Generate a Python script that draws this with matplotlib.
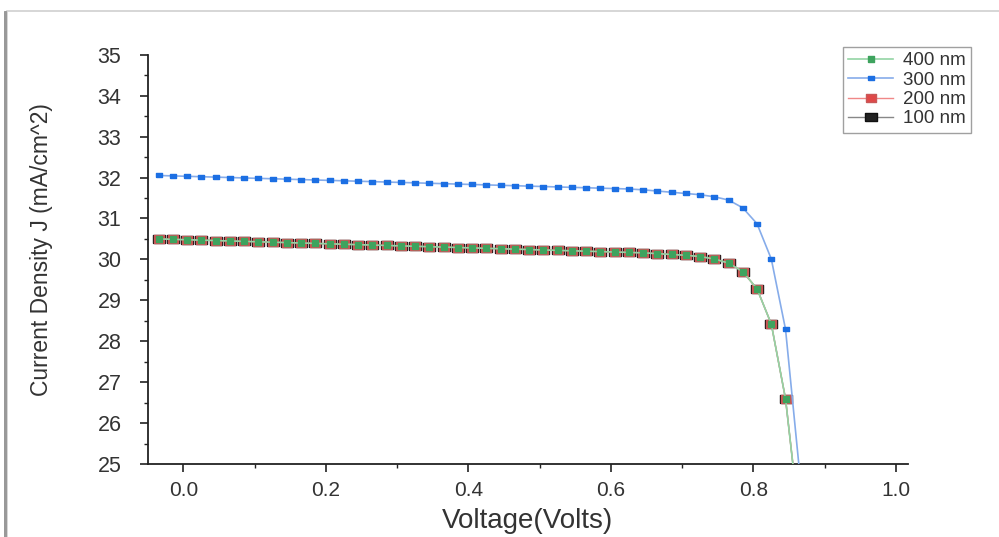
import matplotlib
matplotlib.use("Agg")
import matplotlib.pyplot as plt
from matplotlib.patches import Rectangle

voltage = [-0.035, -0.015, 0.005, 0.025, 0.045, 0.065, 0.085, 0.105, 0.125, 0.145,
           0.165, 0.185, 0.205, 0.225, 0.245, 0.265, 0.285, 0.305, 0.325, 0.345,
           0.365, 0.385, 0.405, 0.425, 0.445, 0.465, 0.485, 0.505, 0.525, 0.545,
           0.565, 0.585, 0.605, 0.625, 0.645, 0.665, 0.685, 0.705, 0.725, 0.745,
           0.765, 0.785, 0.805, 0.825, 0.845, 0.865]

j_300 = [32.05, 32.04, 32.03, 32.02, 32.01, 32.00, 31.99, 31.98, 31.97, 31.96,
         31.95, 31.94, 31.93, 31.92, 31.91, 31.90, 31.89, 31.88, 31.87, 31.86,
         31.85, 31.84, 31.83, 31.82, 31.81, 31.80, 31.79, 31.78, 31.77, 31.76,
         31.75, 31.74, 31.73, 31.72, 31.70, 31.67, 31.64, 31.61, 31.58, 31.53,
         31.45, 31.26, 30.87, 30.01, 28.29, 24.75]

j_400 = [30.50, 30.49, 30.48, 30.47, 30.46, 30.45, 30.44, 30.43, 30.42, 30.41,
         30.40, 30.39, 30.38, 30.37, 30.36, 30.35, 30.34, 30.33, 30.32, 30.31,
         30.30, 30.29, 30.28, 30.27, 30.26, 30.25, 30.24, 30.23, 30.22, 30.21,
         30.20, 30.19, 30.18, 30.17, 30.16, 30.14, 30.12, 30.10, 30.07, 30.01,
         29.91, 29.70, 29.28, 28.42, 26.59, 23.50]
j_200 = list(j_400)
j_100 = list(j_400)

labels = ["400 nm", "300 nm", "200 nm", "100 nm"]
x_ticks = [0.0, 0.2, 0.4, 0.6, 0.8, 1.0]
y_ticks = [25, 26, 27, 28, 29, 30, 31, 32, 33, 34, 35]

plt.rcParams['font.family'] = ['Liberation Sans', 'DejaVu Sans']

fig = plt.figure(figsize=(9.99, 5.37), dpi=100)
# outer frame
fig.patches.append(Rectangle((0.007, -0.05), 1.1, 1.03, transform=fig.transFigure,
                             fill=False, edgecolor='#d0d0d0', linewidth=1.2))
fig.patches.append(Rectangle((0.005, -0.05), 0.0, 1.03, transform=fig.transFigure,
                             fill=False, edgecolor='#999999', linewidth=2.0))

ax = fig.add_axes([0.148, 0.136, 0.761, 0.762])

rect = [(-1.25, -1), (1.25, -1), (1.25, 1), (-1.25, 1), (-1.25, -1)]
flat = [(-1.5, -1), (1.5, -1), (1.5, 1), (-1.5, 1), (-1.5, -1)]

h100, = ax.plot(voltage, j_100, color='#888888', lw=1.0, marker=rect, ms=8,
                mfc='#222222', mec='#111111', label=labels[3], zorder=2)
h200, = ax.plot(voltage, j_200, color='#f08888', lw=1.0, marker=rect, ms=7,
                mfc='#e04848', mec='#c85858', label=labels[2], zorder=3)
h300, = ax.plot(voltage, j_300, color='#86acea', lw=1.2, marker=flat, ms=5,
                mfc='#1c6fe3', mec='#1c6fe3', label=labels[1], zorder=4)
h400, = ax.plot(voltage, j_400, color='#94d4a4', lw=1.2, marker=rect, ms=5,
                mfc='#3ea35e', mec='#3ea35e', label=labels[0], zorder=5)

ax.set_xlim(-0.05, 1.017)
ax.set_ylim(25, 35)
ax.set_xticks(x_ticks)
ax.set_xticklabels([f"{v:.1f}" for v in x_ticks])
ax.set_xticks([0.1, 0.3, 0.5, 0.7, 0.9], minor=True)
ax.set_yticks(y_ticks)
ax.set_yticks([25.5 + i for i in range(10)], minor=True)

for s in ['top', 'right']:
    ax.spines[s].set_visible(False)
for s in ['left', 'bottom']:
    ax.spines[s].set_color('#222222')
    ax.spines[s].set_linewidth(1.3)

ax.tick_params(which='major', direction='out', length=6, width=1.2, colors='#222222',
               labelcolor='#333333')
ax.tick_params(axis='x', labelsize=15, pad=6)
ax.tick_params(axis='y', labelsize=15.5, pad=13)
ax.tick_params(which='minor', direction='out', length=3, width=1.0, colors='#222222')

ax.set_xlabel("Voltage(Volts)", fontsize=20, color='#333333', labelpad=6)
ax.set_ylabel("Current Density J (mA/cm^2)", fontsize=16.5, color='#333333')
ax.yaxis.set_label_coords(-0.125, 0.525)

leg = ax.legend(handles=[h400, h300, h200, h100], loc='upper right',
                bbox_to_anchor=(1.083, 1.02), fontsize=13.5, frameon=True, fancybox=False,
                edgecolor='#888888', handlelength=2.4, borderpad=0.3, labelspacing=0.12,
                handletextpad=0.5, borderaxespad=0.0)
leg.get_frame().set_linewidth(1.0)
for t in leg.get_texts():
    t.set_color('#333333')

fig.savefig("out.png", dpi=100)
